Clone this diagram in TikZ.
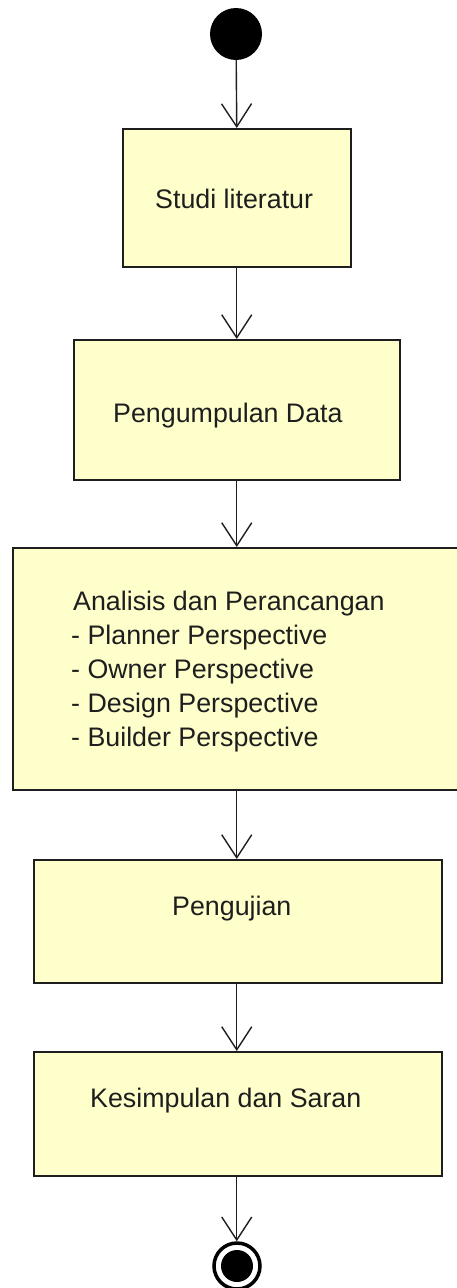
\documentclass[tikz,border=0pt]{standalone}
\usepackage{fontspec}
\setmainfont{Liberation Sans}
\usetikzlibrary{arrows.meta}
\definecolor{actfill}{RGB}{255,255,204}
\definecolor{ink}{RGB}{30,30,30}

\begin{document}
\begin{tikzpicture}[x=1pt, y=-1pt,
	activity/.style = {shape=rectangle, draw=ink, line width=1.5pt, fill=actfill, inner sep=0pt, anchor=north west},
	txt/.style = {anchor=base west, inner sep=0pt, text=ink, font=\fontsize{26.8}{34}\selectfont},
	flow/.style = {draw=ink, line width=1.4pt, -{Straight Barb[length=23pt, width=30pt, line width=1.4pt]}}]
	\clip (0,0) rectangle (457,1288);
	\fill[white] (0,0) rectangle (457,1288);
	% start / end
	\node[circle, fill=black, inner sep=0pt, minimum size=52pt] (start) at (236,34) {};
	\node[circle, draw=black, line width=3.5pt, fill=white, inner sep=0pt, minimum size=46pt] (final) at (237,1266) {};
	\fill[black] (final.center) circle (16pt);
	% activities
	\node[activity, minimum width=228pt, minimum height=138pt] (studi) at (122,128) {};
	\node[activity, minimum width=326pt, minimum height=140pt] (kumpul) at (73,339) {};
	\node[activity, minimum width=448pt, minimum height=242pt] (analisis) at (12,547) {};
	\node[activity, minimum width=408pt, minimum height=123pt] (uji) at (33,859) {};
	\node[activity, minimum width=408pt, minimum height=124pt] (simpul) at (33,1051) {};
	% labels
	\node[txt] (tstudi) at (155,208) {Studi literatur};
	\node[txt] (tkumpul) at (113,422) {Pengumpulan Data};
	\node[txt] (tanalisis) at (73,610) {Analisis dan Perancangan};
	\foreach \t [count=\i] in {Planner, Owner, Design, Builder}
		\node[txt] (tp\i) at (71,610+34*\i) {- \t\ Perspective};
	\node[txt] (tuji) at (172,915) {Pengujian};
	\node[txt] (tsimpul) at (90,1107) {Kesimpulan dan Saran};
	% flows
	\draw[flow] (start) -- (studi.north);
	\draw[flow] (studi.south) -- (kumpul.north);
	\draw[flow] (kumpul.south) -- (analisis.north);
	\draw[flow] (analisis.south) -- (uji.north -| analisis.south);
	\draw[flow] (uji.south -| analisis.south) -- (simpul.north -| analisis.south);
	\draw[flow] (simpul.south -| analisis.south) -- (final.north -| analisis.south);
\end{tikzpicture}
\end{document}
